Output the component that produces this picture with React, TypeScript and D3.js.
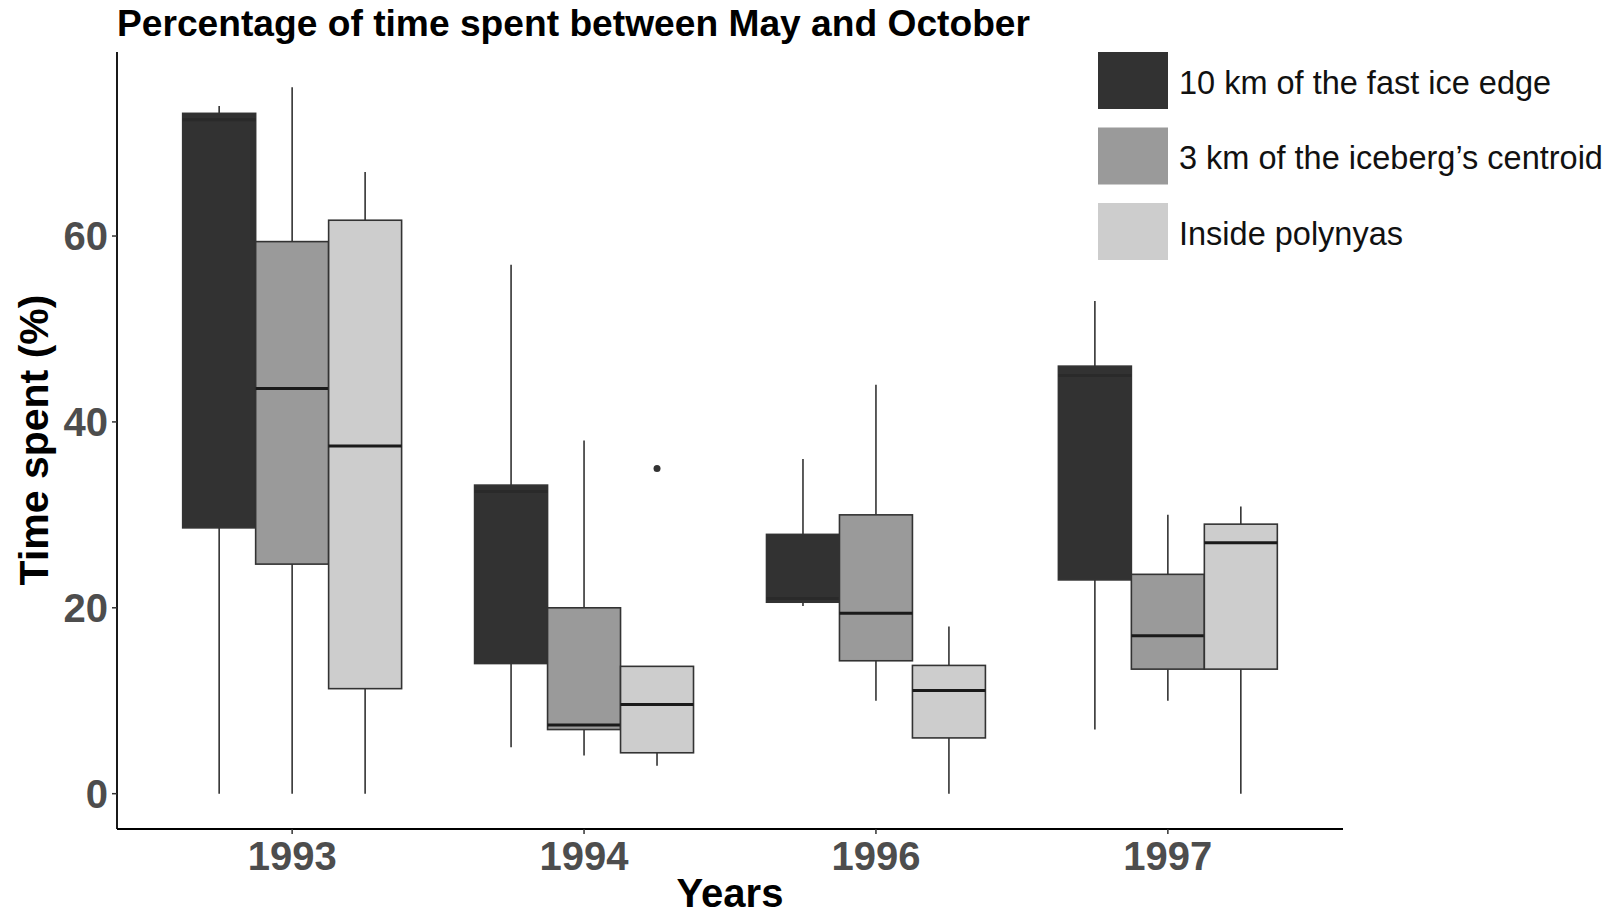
import * as d3 from "d3";

const W = 1624;
const H = 915;

const years = ["1993", "1994", "1996", "1997"];
const groups = ["10 km of the fast ice edge", "3 km of the iceberg\u2019s centroid", "Inside polynyas"];
const groupFill = ["#323232", "#9a9a9a", "#cdcdcd"];

// [lower whisker, q1, median, q3, upper whisker] per year
const fastIce = [
  [0, 28.6, 72.5, 73.2, 74],
  [5, 14, 32.5, 33.2, 56.9],
  [20.2, 20.6, 21, 27.9, 36],
  [6.9, 23, 45, 46, 53],
];
const iceberg = [
  [0, 24.7, 43.6, 59.4, 76],
  [4.1, 6.9, 7.4, 20, 38],
  [10, 14.3, 19.4, 30, 44],
  [10, 13.4, 17, 23.6, 30],
];
const polynya = [
  [0, 11.3, 37.4, 61.7, 66.9],
  [3, 4.4, 9.6, 13.7, 13.7],
  [0, 6, 11.1, 13.8, 18],
  [0, 13.4, 27, 29, 30.9],
];
const outliers = [{ year: "1994", group: 2, value: 35 }];
const yTicks = [0, 20, 40, 60];

const series = [fastIce, iceberg, polynya];

const left = 117;
const right = 1343;
const top = 52;
const bottom = 829;

function App() {
  const x = d3.scalePoint().domain(years).range([left, right]).padding(0.6);
  const step = x.step();
  const inner = d3
    .scaleBand()
    .domain(groups.map((g, i) => String(i)))
    .range([-step * 0.375, step * 0.375]);
  const bw = inner.bandwidth();
  const y = d3.scaleLinear().domain([-3.8, 79.8]).range([bottom, top]);

  return (
    <svg width={W} height={H} style={{ position: "absolute", left: 0, top: 0, background: "#fff" }}
      fontFamily="'Liberation Sans', Arial, sans-serif">
      <text x={117} y={36} fontSize={36} fontWeight="bold" fill="#000" textLength={913} lengthAdjust="spacingAndGlyphs">
        Percentage of time spent between May and October
      </text>

      {/* boxes */}
      {series.map((s, gi) =>
        s.map((st, yi) => {
          const cx = (x(years[yi]) as number) + (inner(String(gi)) as number) + bw / 2;
          const x0 = cx - bw / 2;
          return (
            <g key={gi + "-" + yi}>
              <line x1={cx} x2={cx} y1={y(st[0])} y2={y(st[1])} stroke="#333" strokeWidth={1.6} />
              <line x1={cx} x2={cx} y1={y(st[3])} y2={y(st[4])} stroke="#333" strokeWidth={1.6} />
              <rect x={x0} y={y(st[3])} width={bw} height={y(st[1]) - y(st[3])}
                fill={groupFill[gi]} stroke="#333" strokeWidth={1.6} />
              <line x1={x0} x2={x0 + bw} y1={y(st[2])} y2={y(st[2])}
                stroke={gi === 0 ? "#2a2a2a" : "#1a1a1a"} strokeWidth={3} />
            </g>
          );
        })
      )}
      {outliers.map((o, i) => {
        const cx = (x(o.year) as number) + (inner(String(o.group)) as number) + bw / 2;
        return <circle key={i} cx={cx} cy={y(o.value)} r={3.5} fill="#333" />;
      })}

      {/* axes */}
      <line x1={left} x2={left} y1={top} y2={bottom} stroke="#000" strokeWidth={1.8} />
      <line x1={left} x2={right} y1={bottom} y2={bottom} stroke="#000" strokeWidth={1.8} />
      {yTicks.map((t) => (
        <g key={t}>
          <line x1={left - 5} x2={left} y1={y(t)} y2={y(t)} stroke="#333" strokeWidth={1.5} />
          <text x={left - 9} y={y(t)} dy="0.36em" textAnchor="end" fontSize={40} fontWeight="bold" fill="#4d4d4d">
            {t}
          </text>
        </g>
      ))}
      {years.map((yr) => (
        <g key={yr}>
          <line x1={x(yr)} x2={x(yr)} y1={bottom} y2={bottom + 5} stroke="#333" strokeWidth={1.5} />
          <text x={x(yr)} y={bottom + 41} textAnchor="middle" fontSize={40} fontWeight="bold" fill="#4d4d4d">
            {yr}
          </text>
        </g>
      ))}
      <text x={730} y={907} textAnchor="middle" fontSize={40} fontWeight="bold" fill="#000">
        Years
      </text>
      <text transform={`translate(48, 440) rotate(-90)`} textAnchor="middle" fontSize={41} fontWeight="bold" fill="#000">
        Time spent (%)
      </text>

      {/* legend */}
      {groups.map((g, i) => {
        const ky = 52 + i * 75.5;
        return (
          <g key={g}>
            <rect x={1098} y={ky} width={70} height={57} fill={groupFill[i]} />
            <text x={1179} y={ky + 30} dy="0.36em" fontSize={32.5} fill="#111">
              {g}
            </text>
          </g>
        );
      })}
    </svg>
  );
}

export default App;
